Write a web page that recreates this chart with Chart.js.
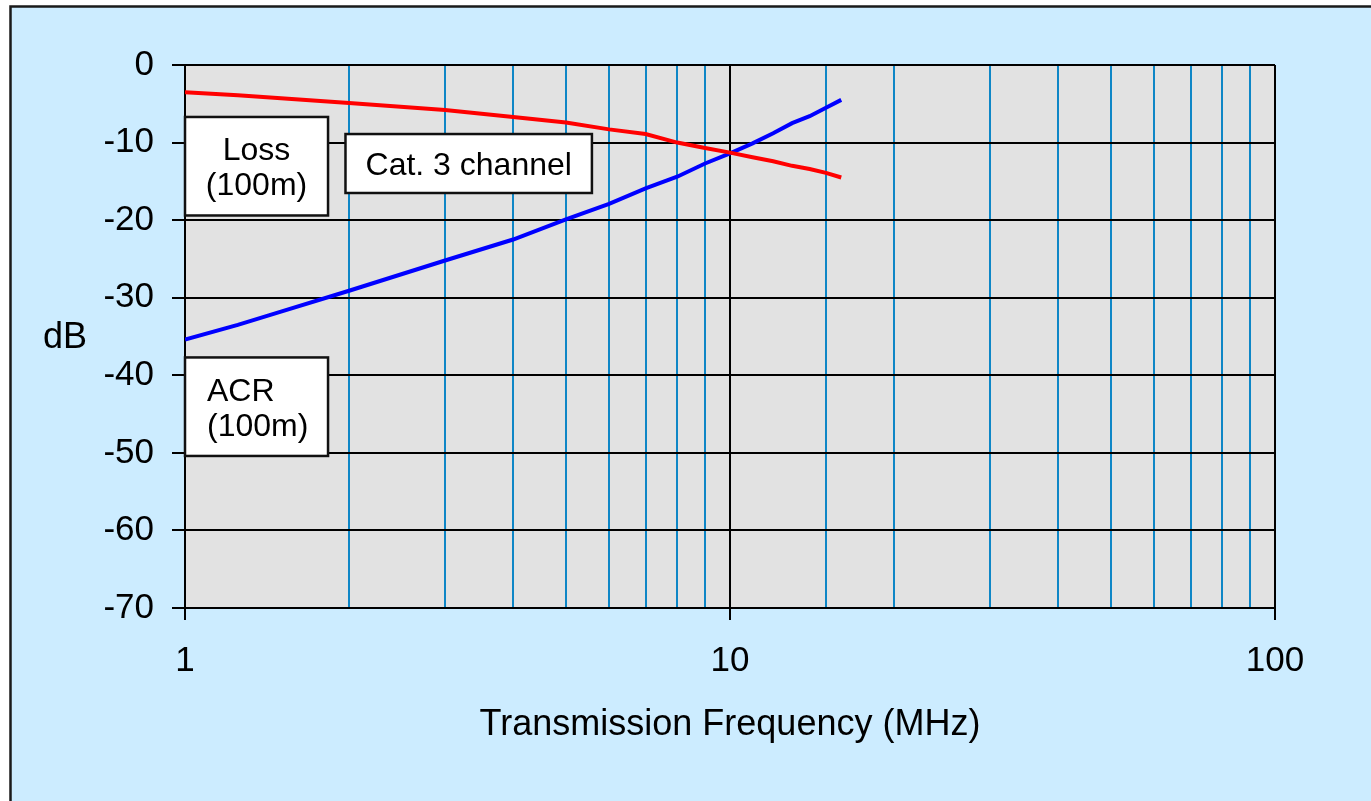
<!DOCTYPE html>
<html>
<head>
<meta charset="utf-8">
<title>Cat. 3 channel – Loss and ACR</title>
<script src="https://cdn.jsdelivr.net/npm/chart.js@4/dist/chart.umd.min.js"></script>
<style>
  html, body { margin: 0; padding: 0; background: #ffffff; }
  #wrap { position: relative; width: 1371px; height: 801px; }
</style>
</head>
<body>
<div id="wrap"><canvas id="chart"></canvas></div>
<script>
// Frequencies (MHz) at which the channel was characterised
const frequencies = [1, 1.25, 1.5, 2, 3, 4, 5, 6, 7, 8, 9, 10, 11, 12, 13, 14, 15, 16];
// Insertion loss over 100 m (dB)
const lossValues = [-3.5, -3.9, -4.3, -4.9, -5.8, -6.7, -7.4, -8.3, -8.9, -10.0, -10.7, -11.3, -11.9, -12.4, -13.0, -13.4, -13.9, -14.5];
// Attenuation-to-crosstalk ratio over 100 m (dB)
const acrValues = [-35.4, -33.5, -31.8, -29.1, -25.2, -22.5, -19.9, -17.9, -15.9, -14.4, -12.7, -11.4, -10.1, -8.8, -7.5, -6.6, -5.5, -4.5];
// Labelled decades on the frequency axis
const decadeTicks = [1, 10, 100];
const seriesNames = ['Loss (100m)', 'ACR (100m)'];
const xTitle = 'Transmission Frequency (MHz)';
const yTitle = 'dB';

const FONT = '"Liberation Sans", Arial, Helvetica, sans-serif';
const GRID_BLUE = '#0E86C6';

// Boxed captions, anchored in data units (frequency, dB)
const captions = [
  { lines: ['Loss', '(100m)'], x0: 1, x1: 1.83, y0: -6.7, y1: -19.4, align: 'center' },
  { lines: ['Cat. 3 channel'], x0: 1.97, x1: 5.58, y0: -8.9, y1: -16.5, align: 'center' },
  { lines: ['ACR', '(100m)'], x0: 1, x1: 1.83, y0: -37.7, y1: -50.4, align: 'left' }
];

const backdrop = {
  id: 'backdrop',
  beforeDraw(chart) {
    const { ctx, width, height, chartArea: a } = chart;
    ctx.save();
    ctx.fillStyle = '#ffffff';
    ctx.fillRect(0, 0, width, height);
    ctx.fillStyle = '#CCECFF';
    ctx.fillRect(10, 6, width - 10, height - 6);
    ctx.strokeStyle = '#1a1a1a';
    ctx.lineWidth = 2.5;
    ctx.beginPath();
    ctx.moveTo(10.5, height + 2);
    ctx.lineTo(10.5, 6.5);
    ctx.lineTo(width + 2, 6.5);
    ctx.stroke();
    ctx.fillStyle = '#E2E2E2';
    ctx.fillRect(a.left, a.top, a.right - a.left, a.bottom - a.top);
    ctx.restore();
  }
};

const annotations = {
  id: 'annotations',
  afterDatasetsDraw(chart) {
    const { ctx, scales: { x, y } } = chart;
    const size = 32, gap = 35, cap = size * 0.716;
    ctx.save();
    ctx.font = size + 'px ' + FONT;
    ctx.fillStyle = '#000';
    captions.forEach(c => {
      const l = x.getPixelForValue(c.x0), r = x.getPixelForValue(c.x1);
      const t = y.getPixelForValue(c.y0), b = y.getPixelForValue(c.y1);
      ctx.fillStyle = '#ffffff';
      ctx.fillRect(l, t, r - l, b - t);
      ctx.strokeStyle = '#111';
      ctx.lineWidth = 2.5;
      ctx.strokeRect(l, t, r - l, b - t);
      ctx.fillStyle = '#000';
      ctx.textBaseline = 'alphabetic';
      const cy = (t + b) / 2;
      c.lines.forEach((txt, i) => {
        const base = cy + (i - (c.lines.length - 1) / 2) * gap + cap / 2;
        if (c.align === 'left') {
          ctx.textAlign = 'left';
          ctx.fillText(txt, l + 22, base);
        } else {
          ctx.textAlign = 'center';
          ctx.fillText(txt, (l + r) / 2, base);
        }
      });
    });
    // horizontal unit label beside the value axis
    ctx.font = '36px ' + FONT;
    ctx.textAlign = 'center';
    ctx.textBaseline = 'alphabetic';
    ctx.fillText(yTitle, 65, 348);
    ctx.restore();
  }
};

new Chart(document.getElementById('chart'), {
  type: 'line',
  data: {
    datasets: [
      {
        label: seriesNames[0],
        data: frequencies.map((f, i) => ({ x: f, y: lossValues[i] })),
        borderColor: '#FF0000',
        borderWidth: 4,
        pointRadius: 0,
        tension: 0,
        fill: false
      },
      {
        label: seriesNames[1],
        data: frequencies.map((f, i) => ({ x: f, y: acrValues[i] })),
        borderColor: '#0000FF',
        borderWidth: 4,
        pointRadius: 0,
        tension: 0,
        fill: false
      }
    ]
  },
  options: {
    responsive: true,
    maintainAspectRatio: false,
    animation: false,
    devicePixelRatio: 1,
    layout: { padding: { top: 65, right: 96, left: 0, bottom: 0 } },
    plugins: {
      legend: { display: false },
      tooltip: { enabled: false },
      title: { display: false }
    },
    scales: {
      x: {
        type: 'logarithmic',
        position: 'bottom',
        min: 1,
        max: 100,
        afterFit(s) { s.height = 193; },
        border: { display: true, color: '#000', width: 2 },
        grid: {
          lineWidth: 2,
          tickLength: 12,
          color: c => decadeTicks.includes(c.tick && c.tick.value) ? '#000' : GRID_BLUE,
          tickColor: c => decadeTicks.includes(c.tick && c.tick.value) ? '#000' : 'rgba(0,0,0,0)'
        },
        ticks: {
          autoSkip: false,
          maxRotation: 0,
          padding: 20,
          color: '#000',
          font: { family: FONT, size: 35 },
          callback: v => decadeTicks.includes(v) ? String(v) : ''
        },
        title: {
          display: true,
          text: xTitle,
          color: '#000',
          font: { family: FONT, size: 36 },
          padding: { top: 0, bottom: 54 }
        }
      },
      y: {
        type: 'linear',
        min: -70,
        max: 0,
        afterFit(s) { s.width = 185; },
        border: { display: true, color: '#000', width: 2 },
        grid: { color: '#000', lineWidth: 2, tickLength: 13, tickColor: '#000' },
        ticks: {
          stepSize: 10,
          padding: 18,
          color: '#000',
          font: { family: FONT, size: 35 }
        }
      }
    }
  },
  plugins: [backdrop, annotations]
});
</script>
</body>
</html>
